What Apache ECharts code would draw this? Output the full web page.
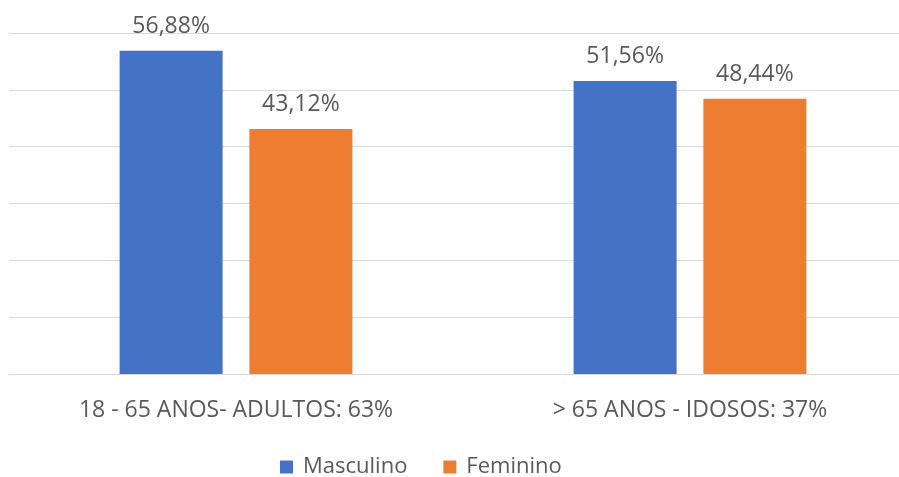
<!DOCTYPE html>
<html>
<head>
<meta charset="utf-8">
<script src="https://cdn.jsdelivr.net/npm/echarts@6/dist/echarts.min.js"></script>
<style>
  html, body { margin: 0; padding: 0; background: #fff; overflow: hidden; }
  #chart { width: 917px; height: 477px; }
</style>
</head>
<body>
<div id="chart"></div>
<script>
// chart data
const categories = ['18 - 65 ANOS- ADULTOS: 63%', '> 65 ANOS - IDOSOS: 37%']
const masculino = [56.88, 51.56]
const feminino = [43.12, 48.44]

const fontFamily = '"Open Sans", "Noto Sans", sans-serif'
const textColor = '#595959'

// container is a bit wider than the window, the plot runs off the right edge
const chart = echarts.init(document.getElementById('chart'))

function pct(p) {
  return p.value.toFixed(2).replace('.', ',') + '%'
}

const barLabel = {
  show: true,
  position: 'top',
  distance: 13,
  color: textColor,
  fontSize: 23,
  fontFamily: fontFamily,
  formatter: pct
}

chart.setOption({
  animation: false,
  grid: {
    left: 9,
    top: 33,
    right: 0,
    bottom: 103
  },
  legend: {
    bottom: -6,
    left: 275,
    itemWidth: 13,
    itemHeight: 13,
    itemGap: 36,
    icon: 'rect',
    textStyle: {
      color: textColor,
      fontSize: 22,
      fontFamily: fontFamily,
      padding: [0, 0, 0, 5]
    },
    data: ['Masculino', 'Feminino']
  },
  xAxis: {
    type: 'category',
    data: categories,
    axisTick: { show: false },
    axisLine: { lineStyle: { color: '#d9d9d9', width: 1 } },
    axisLabel: {
      color: textColor,
      fontSize: 23,
      fontFamily: fontFamily,
      margin: 25
    }
  },
  yAxis: {
    type: 'value',
    min: 0,
    max: 60,
    interval: 10,
    axisLabel: { show: false },
    axisLine: { show: false },
    axisTick: { show: false },
    splitLine: { lineStyle: { color: '#d9d9d9', width: 1 } }
  },
  series: [
    {
      name: 'Masculino',
      type: 'bar',
      data: masculino,
      barWidth: 103,
      barGap: '26%',
      itemStyle: { color: '#4472C4' },
      label: barLabel
    },
    {
      name: 'Feminino',
      type: 'bar',
      data: feminino,
      barWidth: 103,
      itemStyle: { color: '#ED7D31' },
      label: barLabel
    }
  ]
})
</script>
</body>
</html>
